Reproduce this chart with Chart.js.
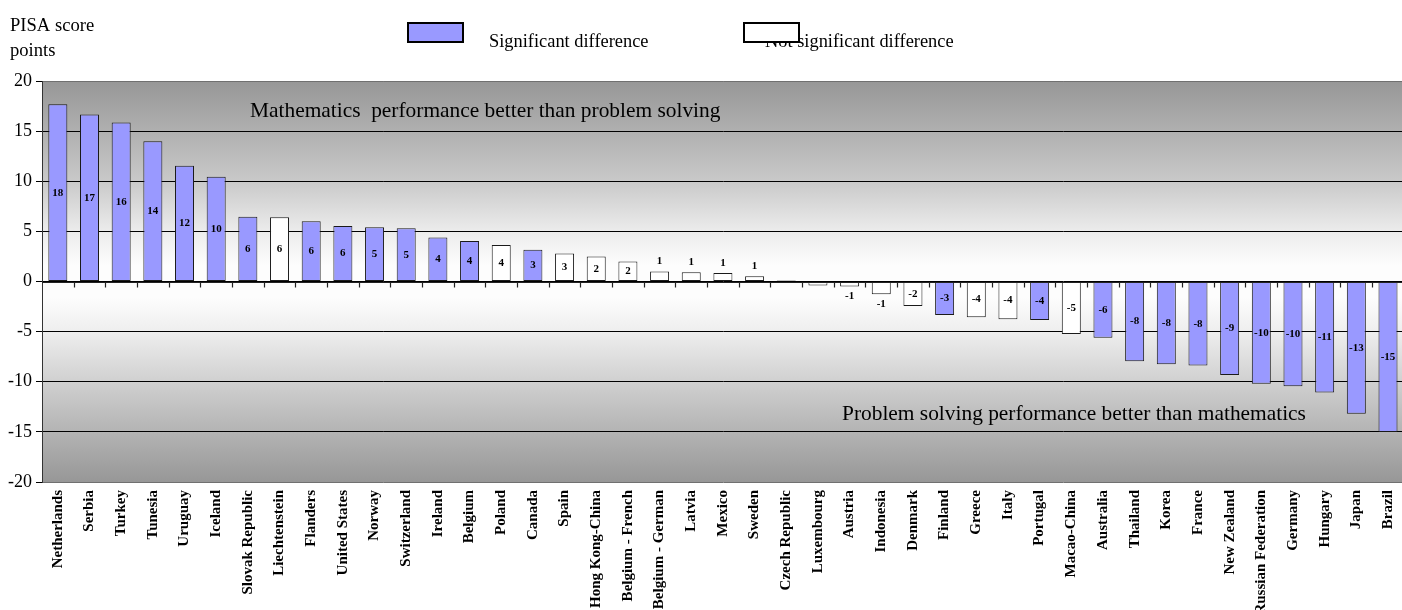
<!DOCTYPE html>
<html>
<head>
<meta charset="utf-8">
<script src="https://cdn.jsdelivr.net/npm/chart.js@4/dist/chart.umd.min.js"></script>
<style>
html,body{margin:0;padding:0;overflow:hidden;background:#fff;width:1402px;height:610px}
#wrap{position:relative;width:1414px;height:610px}
</style>
</head>
<body>
<div id="wrap"><canvas id="c" width="1414" height="610"></canvas></div>
<script>
const categories = ["Netherlands","Serbia","Turkey","Tunesia","Uruguay","Iceland","Slovak Republic","Liechtenstein","Flanders","United States","Norway","Switzerland","Ireland","Belgium","Poland","Canada","Spain","Hong Kong-China","Belgium - French","Belgium - German","Latvia","Mexico","Sweden","Czech Republic","Luxembourg","Austria","Indonesia","Denmark","Finland","Greece","Italy","Portugal","Macao-China","Australia","Thailand","Korea","France","New Zealand","Russian Federation","Germany","Hungary","Japan","Brazil"];
const values = [17.67,16.67,15.87,13.98,11.55,10.45,6.46,6.4,6.0,5.53,5.4,5.3,4.4,4.04,3.64,3.17,2.8,2.5,2.0,1.0,0.92,0.85,0.52,0.1,-0.4,-0.5,-1.28,-2.45,-3.34,-3.57,-3.77,-3.84,-5.23,-5.6,-7.96,-8.26,-8.39,-9.32,-10.19,-10.45,-11.08,-13.18,-15.0];
const valueLabels = ["18","17","16","14","12","10","6","6","6","6","5","5","4","4","4","3","3","2","2","1","1","1","1","","","-1","-1","-2","-3","-4","-4","-4","-5","-6","-8","-8","-8","-9","-10","-10","-11","-13","-15"];
const significant = [1,1,1,1,1,1,1,0,1,1,1,1,1,1,0,1,0,0,0,0,0,0,0,0,0,0,0,0,1,0,0,1,0,1,1,1,1,1,1,1,1,1,1];
const yMin = -20, yMax = 20, yStep = 5;
const titleLines = ["PISA score","points"];
const legendItems = ["Significant difference","Not significant difference"];
const upperNote = "Mathematics  performance better than problem solving";
const lowerNote = "Problem solving performance better than mathematics";

const SERIF = '"Liberation Serif", "Times New Roman", serif';
const SIG_COLOR = '#9999FF', NONSIG_COLOR = '#FFFFFF';

const bgPlugin = {
  id: 'bg',
  beforeDraw(chart) {
    const {ctx, chartArea: a} = chart;
    const g = ctx.createLinearGradient(0, a.top, 0, a.bottom);
    g.addColorStop(0, '#979797');
    g.addColorStop(0.25, '#c9c9c9');
    g.addColorStop(0.375, '#ececec');
    g.addColorStop(0.46, '#fdfdfd');
    g.addColorStop(0.54, '#fdfdfd');
    g.addColorStop(0.625, '#eeeeee');
    g.addColorStop(0.75, '#d0d0d0');
    g.addColorStop(1, '#979797');
    ctx.save();
    ctx.fillStyle = g;
    ctx.fillRect(a.left, a.top, a.right - a.left, a.bottom - a.top);
    ctx.restore();
  }
};

const axisZeroPlugin = {
  id: 'axisZero',
  afterDatasetsDraw(chart) {
    const {ctx, chartArea: a, scales: {x, y}} = chart;
    const y0 = Math.round(y.getPixelForValue(0)) + 0.5;
    ctx.save();
    ctx.strokeStyle = '#222';
    ctx.lineWidth = 1.2;
    ctx.beginPath();
    ctx.moveTo(a.left, y0); ctx.lineTo(a.right, y0);
    for (let i = 0; i < categories.length - 1; i++) {
      const xp = Math.round((x.getPixelForValue(i) + x.getPixelForValue(i + 1)) / 2) + 0.5;
      ctx.moveTo(xp, y0); ctx.lineTo(xp, y0 + 5);
    }
    ctx.stroke();
    const meta = chart.getDatasetMeta(0);
    ctx.fillStyle = '#000';
    ctx.font = 'bold 11px ' + SERIF;
    ctx.textAlign = 'center';
    ctx.textBaseline = 'middle';
    meta.data.forEach((el, i) => {
      const t = valueLabels[i];
      if (!t) return;
      const v = values[i];
      let ty;
      if (Math.abs(v) < 1.5) {
        ty = v >= 0 ? el.y - 10 : el.y + 10;
      } else {
        ty = (el.y + el.base) / 2;
      }
      ctx.fillText(t, el.x, ty);
    });
    ctx.restore();
  }
};

const textPlugin = {
  id: 'texts',
  afterDraw(chart) {
    const {ctx} = chart;
    ctx.save();
    ctx.fillStyle = '#000';
    ctx.textBaseline = 'alphabetic';
    ctx.textAlign = 'left';
    ctx.font = '18.6px ' + SERIF;
    ctx.fillText(titleLines[0], 10, 31);
    ctx.fillText(titleLines[1], 10, 56);
    ctx.font = '18.4px ' + SERIF;
    ctx.fillText(legendItems[0], 489, 47);
    ctx.fillText(legendItems[1], 765, 47);
    ctx.lineWidth = 2;
    ctx.strokeStyle = '#000';
    ctx.fillStyle = SIG_COLOR;
    ctx.fillRect(408, 23, 55, 19);
    ctx.strokeRect(408, 23, 55, 19);
    ctx.fillStyle = NONSIG_COLOR;
    ctx.fillRect(744, 23, 55, 19);
    ctx.strokeRect(744, 23, 55, 19);
    ctx.fillStyle = '#000';
    ctx.font = '21.4px ' + SERIF;
    ctx.fillText(upperNote, 250, 117);
    ctx.fillText(lowerNote, 842, 420);
    ctx.restore();
  }
};

new Chart(document.getElementById('c'), {
  type: 'bar',
  data: {
    labels: categories,
    datasets: [{
      data: values,
      backgroundColor: significant.map(s => s ? SIG_COLOR : NONSIG_COLOR),
      borderColor: '#1a1a1a',
      borderWidth: 1,
      borderSkipped: false,
      barPercentage: 0.6,
      categoryPercentage: 1.0
    }]
  },
  options: {
    responsive: false,
    animation: false,
    events: [],
    layout: {padding: {top: 81, left: 0, right: 0, bottom: 0}},
    plugins: {legend: {display: false}, tooltip: {enabled: false}, title: {display: false}},
    scales: {
      x: {
        grid: {display: false, drawTicks: false},
        border: {display: false},
        ticks: {
          autoSkip: false, minRotation: 90, maxRotation: 90, padding: 8, color: '#000',
          font: {family: SERIF, size: 15, weight: 'bold'}
        },
        afterFit(s) { s.height = 128; }
      },
      y: {
        min: yMin, max: yMax,
        ticks: {stepSize: yStep, padding: 4, color: '#000', font: {family: SERIF, size: 18}},
        grid: {
          color: c => (c.tick && Math.abs(c.tick.value) === 20) ? '#707070' : '#000',
          lineWidth: 1, tickLength: 6, tickColor: '#000'
        },
        border: {display: true, color: '#333', width: 1},
        afterFit(s) { s.width = 42; }
      }
    }
  },
  plugins: [bgPlugin, axisZeroPlugin, textPlugin]
});
</script>
</body>
</html>
